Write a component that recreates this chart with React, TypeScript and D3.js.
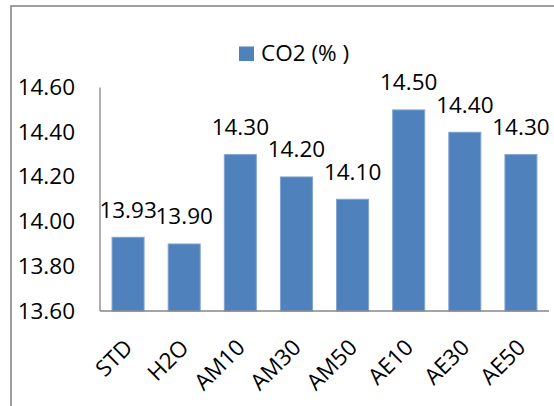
import React from "react";
import * as d3 from "d3";

const categories = ["STD", "H2O", "AM10", "AM30", "AM50", "AE10", "AE30", "AE50"];
const values = [13.93, 13.9, 14.3, 14.2, 14.1, 14.5, 14.4, 14.3];
const yTicks = [13.6, 13.8, 14.0, 14.2, 14.4, 14.6];
const seriesName = "CO2 (% )";

const W = 554;
const H = 406;
const FONT = "'Open Sans', sans-serif";
const FS = 22.5;

export default function App() {
  const plot = { left: 100, right: 549, top: 87.6, bottom: 311 };
  const x = d3
    .scaleBand<string>()
    .domain(categories)
    .range([plot.left, plot.right])
    .paddingInner(0.43)
    .paddingOuter(0.215);
  const y = d3.scaleLinear().domain([13.6, 14.6]).range([plot.bottom, plot.top]);

  return (
    <svg
      width={W}
      height={H}
      style={{ position: "absolute", left: 0, top: 0, background: "#fff" }}
      fontFamily={FONT}
    >
      <rect x={0} y={0} width={W} height={H} fill="#fff" />
      {/* outer chart border */}
      <rect x={11} y={6} width={W + 20} height={H + 20} fill="none" stroke="#888" strokeWidth={1.6} />

      {/* bars */}
      {categories.map((c, i) => (
        <rect
          key={c}
          x={x(c)!}
          y={y(values[i])}
          width={x.bandwidth()}
          height={plot.bottom - y(values[i])}
          fill="#4F81BD"
          stroke="#7FA2CF"
          strokeWidth={1}
        />
      ))}

      {/* axes */}
      <line x1={plot.left} x2={plot.left} y1={plot.top} y2={plot.bottom} stroke="#868686" strokeWidth={1.3} />
      <line x1={plot.left} x2={plot.right} y1={plot.bottom} y2={plot.bottom} stroke="#868686" strokeWidth={1.3} />

      {/* y tick labels */}
      {yTicks.map((t) => (
        <text key={t} x={75} y={y(t) + 7.5} textAnchor="end" fontSize={FS} fill="#000">
          {t.toFixed(2)}
        </text>
      ))}

      {/* data labels */}
      {categories.map((c, i) => (
        <text
          key={c}
          x={x(c)! + x.bandwidth() / 2}
          y={y(values[i]) - 19.5}
          textAnchor="middle"
          fontSize={FS}
          fill="#000"
        >
          {values[i].toFixed(2)}
        </text>
      ))}

      {/* x labels */}
      {categories.map((c) => {
        const cx = x(c)! + x.bandwidth() / 2 + 6;
        const cy = 349;
        return (
          <text
            key={c}
            x={cx}
            y={cy}
            textAnchor="end"
            fontSize={FS}
            fill="#000"
            transform={`rotate(-45 ${cx} ${cy})`}
          >
            {c}
          </text>
        );
      })}

      {/* legend */}
      <rect x={239} y={46.5} width={15} height={14.5} fill="#4F81BD" />
      <text x={261} y={60.7} fontSize={FS} fill="#000">
        {seriesName}
      </text>
    </svg>
  );
}
